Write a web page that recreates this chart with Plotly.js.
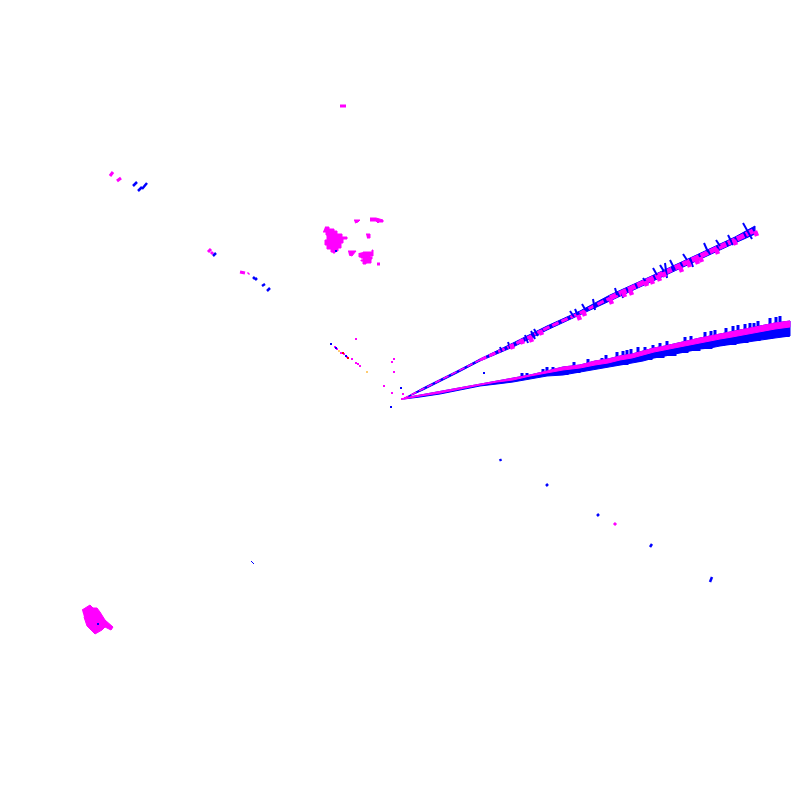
<!DOCTYPE html>
<html>
<head>
<meta charset="utf-8">
<script src="https://cdn.plot.ly/plotly-3.0.1.min.js"></script>
<style>
  body { margin: 0; background: #fff; }
</style>
</head>
<body>
<div id="chart" style="width:800px;height:800px"></div>
<script>
const BLUE = '#0000ff'
const MAGENTA = '#ff00ff'

// lower ray: bands
const lowX = [404, 420, 440, 460, 480, 497, 513, 530, 547, 563, 580, 595, 608, 620, 632, 643, 654, 665, 677, 690, 700, 710, 720, 732, 745, 760, 775, 790]
const lowMagTop = [398, 395, 392, 388, 384, 381, 378, 375, 371, 367, 365, 361, 359, 356, 354, 351, 348, 346, 343, 340, 338, 336, 334, 331, 329, 326, 323, 321]
const lowMagBot = [399, 396, 393, 389, 385, 382, 380, 376, 373, 370, 368, 365, 363, 360, 358, 355, 352, 350, 347, 345, 343, 341, 339, 337, 335, 332, 329, 327]
const lowBlueBot = [399, 397, 394, 390, 386, 384, 382, 379, 376, 375, 372, 369, 367, 365, 363, 361, 358, 356, 354, 351, 349, 348, 346, 344, 342, 340, 338, 336]

// lower ray: blocks that step the underside of the blue band
const lowStepX = [563, 575, 587, 599, 611, 623, 635, 647, 659, 671, 683, 695, 707, 719, 731, 743, 755, 767, 784]
const lowStepTop = [370, 368, 365, 362, 360, 357, 354, 351, 349, 346, 343, 341, 338, 336, 333, 331, 329, 327, 324]
const lowStepBot = [375, 373, 370, 368, 366, 365, 362, 360, 358, 356, 353, 351, 349, 346, 345, 343, 341, 339, 337]

// lower ray: blue spikes above the band
const lowTickX = [522, 527, 543, 547, 553, 574, 588, 602, 606, 617, 623, 627, 631, 638, 645, 653, 660, 667, 685, 691, 705, 711, 715, 726, 733, 738, 745, 750, 754, 758, 770, 776, 780]
const lowTickTop = [373, 373, 369, 367, 367, 362, 359, 358, 355, 352, 351, 350, 349, 347, 347, 345, 343, 341, 337, 336, 332, 331, 330, 328, 326, 325, 324, 323, 323, 321, 318, 317, 316]
const lowTickBot = [378, 378, 375, 374, 373, 369, 365, 362, 361, 359, 358, 357, 356, 355, 353, 352, 351, 349, 346, 345, 342, 342, 341, 340, 339, 338, 337, 335, 334, 333, 331, 330, 329]

// upper ray
const upX = [403, 423, 457, 480, 513, 547, 580, 610, 643, 677, 707, 735, 755]
const upY = [399, 389, 372, 360, 345, 328, 313, 298, 283, 267, 253, 240, 230]
const upTop = [399, 388, 371, 359, 343, 326, 311, 295, 280, 264, 250, 237, 226]
const upBot = [399, 390, 373, 361, 347, 330, 315, 301, 286, 270, 256, 243, 234]

// upper ray: slanted blue spikes
const upTickX0 = [500, 508, 525, 531, 534, 570, 575, 582, 593, 615, 622, 643, 653, 660, 665, 670, 683, 690, 704, 716, 728, 743]
const upTickY0 = [347, 342, 335, 331, 329, 311, 309, 304, 299, 288, 293, 278, 268, 265, 263, 260, 254, 258, 243, 240, 235, 223]
const upTickX1 = [502, 510, 528, 535, 538, 574, 578, 586, 595, 617, 623, 647, 657, 665, 667, 675, 687, 693, 708, 720, 733, 752]
const upTickY1 = [352, 348, 343, 339, 336, 317, 316, 311, 310, 295, 298, 283, 275, 273, 278, 270, 260, 267, 252, 246, 245, 239]

// upper ray: magenta lumps below the line
const upLumpX = [513, 523, 532, 542, 580, 585, 612, 625, 632, 647, 653, 660, 665, 682, 690, 698, 702, 718, 736, 757]
const upLumpY = [349, 344, 342, 335, 320, 316, 304, 297, 295, 286, 284, 281, 277, 272, 267, 264, 262, 254, 245, 236]

// blobs (outlines)
const blobAX = [325, 329, 329, 334, 337, 342, 342, 347, 347, 343, 343, 341, 341, 338, 335, 333, 331, 327, 325, 327, 326, 323]
const blobAY = [227, 227, 229, 231, 234, 234, 237, 237, 239, 239, 243, 245, 248, 251, 253, 252, 249, 245, 240, 235, 232, 232]
const blobBX = [363, 372, 373, 370, 372, 371, 366, 363, 361, 363, 361, 359]
const blobBY = [252, 250, 256, 257, 259, 263, 264, 261, 260, 258, 257, 253]
const blobCX = [348, 356, 352, 349]
const blobCY = [251, 251, 256, 255]
const blobDX = [354, 360, 358, 355]
const blobDY = [220, 220, 222, 223]
const blobEX = [370, 376, 383, 383, 379, 378, 376, 370]
const blobEY = [218, 218, 220, 222, 222, 223, 221, 221]
const blobFX = [366, 370, 370, 367]
const blobFY = [234, 234, 238, 238]
const blobGX = [82, 90, 93, 97, 100, 105, 113, 111, 105, 102, 95, 87, 84]
const blobGY = [610, 605, 608, 608, 612, 620, 627, 630, 627, 630, 634, 626, 617]

// short dashes
const magDashX0 = [340, 377, 110, 117, 208, 211, 240, 248, 614]
const magDashY0 = [106, 264, 176, 181, 252, 254, 272, 274, 525]
const magDashX1 = [346, 380, 113, 121, 211, 213, 245, 249, 616]
const magDashY1 = [106, 264, 172, 178, 249, 252, 273, 273, 523]
const blueDashX0 = [133, 138, 142, 213, 253, 255, 262, 267, 500, 546, 597, 650, 710]
const blueDashY0 = [186, 191, 189, 256, 277, 280, 286, 291, 459, 486, 516, 547, 582]
const blueDashX1 = [137, 142, 147, 216, 255, 257, 265, 270, 501, 548, 599, 652, 712]
const blueDashY1 = [182, 187, 183, 253, 279, 278, 284, 288, 461, 484, 514, 544, 577]
const thinDashX0 = [251]
const thinDashY0 = [561]
const thinDashX1 = [254]
const thinDashY1 = [564]

// isolated points near the centre
const magPtX = [335, 337, 341, 344, 347, 352, 356, 358, 360, 356, 392, 394, 394, 384, 392, 403, 405, 402]
const magPtY = [347, 349, 353, 354, 357, 359, 363, 364, 366, 339, 362, 359, 372, 386, 393, 394, 398, 399]
const bluePtX = [331, 336, 346, 401, 391, 484, 336, 98]
const bluePtY = [344, 348, 356, 388, 407, 373, 251, 624]
const redPtX = [343, 348]
const redPtY = [353, 358]
const orangePtX = [339, 367]
const orangePtY = [351, 372]

function segs (x0, y0, x1, y1) {
  const x = []
  const y = []
  x0.forEach(function (v, i) {
    x.push(v, x1[i], null)
    y.push(y0[i], y1[i], null)
  })
  return { x: x, y: y }
}

function lines (s, color, width, dash) {
  return { x: s.x, y: s.y, type: 'scatter', mode: 'lines', hoverinfo: 'skip', line: { color: color, width: width, dash: dash || 'solid' } }
}

function poly (x, y, color, shape) {
  return { x: x, y: y, type: 'scatter', mode: 'lines', fill: 'toself', fillcolor: color, hoverinfo: 'skip', line: { color: color, width: 1, shape: shape || 'linear' } }
}

function points (x, y, color, size) {
  return { x: x, y: y, type: 'scatter', mode: 'markers', hoverinfo: 'skip', marker: { color: color, size: size, symbol: 'square', line: { width: 0 } } }
}

function band (x, top, bot, color) {
  return poly(x.concat(x.slice().reverse()), top.concat(bot.slice().reverse()), color)
}

const lumpStartX = upLumpX.map(function (v) { return v - 2 })
const lumpStartY = upLumpY.map(function (v) { return v - 5 })

var data = [
  band(lowX, lowMagTop, lowBlueBot, BLUE),
  lines(segs(lowStepX, lowStepTop, lowStepX, lowStepBot), BLUE, 11),
  lines(segs(lowTickX, lowTickTop, lowTickX, lowTickBot), BLUE, 3),
  band(lowX, lowMagTop, lowMagBot, MAGENTA),
  band(upX, upTop, upBot, BLUE),
  lines({ x: upX.slice(0, 4), y: upY.slice(0, 4) }, MAGENTA, 1.5, '6px,3px'),
  lines({ x: upX.slice(3, 8), y: upY.slice(3, 8) }, MAGENTA, 3, '7px,3px'),
  lines({ x: upX.slice(7), y: upY.slice(7) }, MAGENTA, 5, '8px,2px'),
  lines(segs(upTickX0, upTickY0, upTickX1, upTickY1), BLUE, 2),
  lines(segs(lumpStartX, lumpStartY, upLumpX, upLumpY), MAGENTA, 4.5),
  poly(blobAX, blobAY, MAGENTA, 'hv'),
  poly(blobBX, blobBY, MAGENTA, 'hv'),
  poly(blobCX, blobCY, MAGENTA),
  poly(blobDX, blobDY, MAGENTA),
  poly(blobEX, blobEY, MAGENTA),
  poly(blobFX, blobFY, MAGENTA),
  poly(blobGX, blobGY, MAGENTA),
  lines(segs(magDashX0, magDashY0, magDashX1, magDashY1), MAGENTA, 3),
  lines(segs(blueDashX0, blueDashY0, blueDashX1, blueDashY1), BLUE, 2.5),
  lines(segs(thinDashX0, thinDashY0, thinDashX1, thinDashY1), BLUE, 1),
  points(magPtX, magPtY, MAGENTA, 2),
  points(bluePtX, bluePtY, BLUE, 2),
  points(redPtX, redPtY, '#ff0000', 2),
  points(orangePtX, orangePtY, '#ffa500', 1.5)
]

var axis = { visible: false, showgrid: false, zeroline: false, fixedrange: true }

var layout = {
  width: 800,
  height: 800,
  margin: { l: 0, r: 0, t: 0, b: 0 },
  paper_bgcolor: '#fff',
  plot_bgcolor: '#fff',
  showlegend: false,
  xaxis: Object.assign({}, axis, { range: [0, 800] }),
  yaxis: Object.assign({}, axis, { range: [800, 0] })
}

Plotly.newPlot('chart', data, layout, { displayModeBar: false, staticPlot: true })
</script>
</body>
</html>
